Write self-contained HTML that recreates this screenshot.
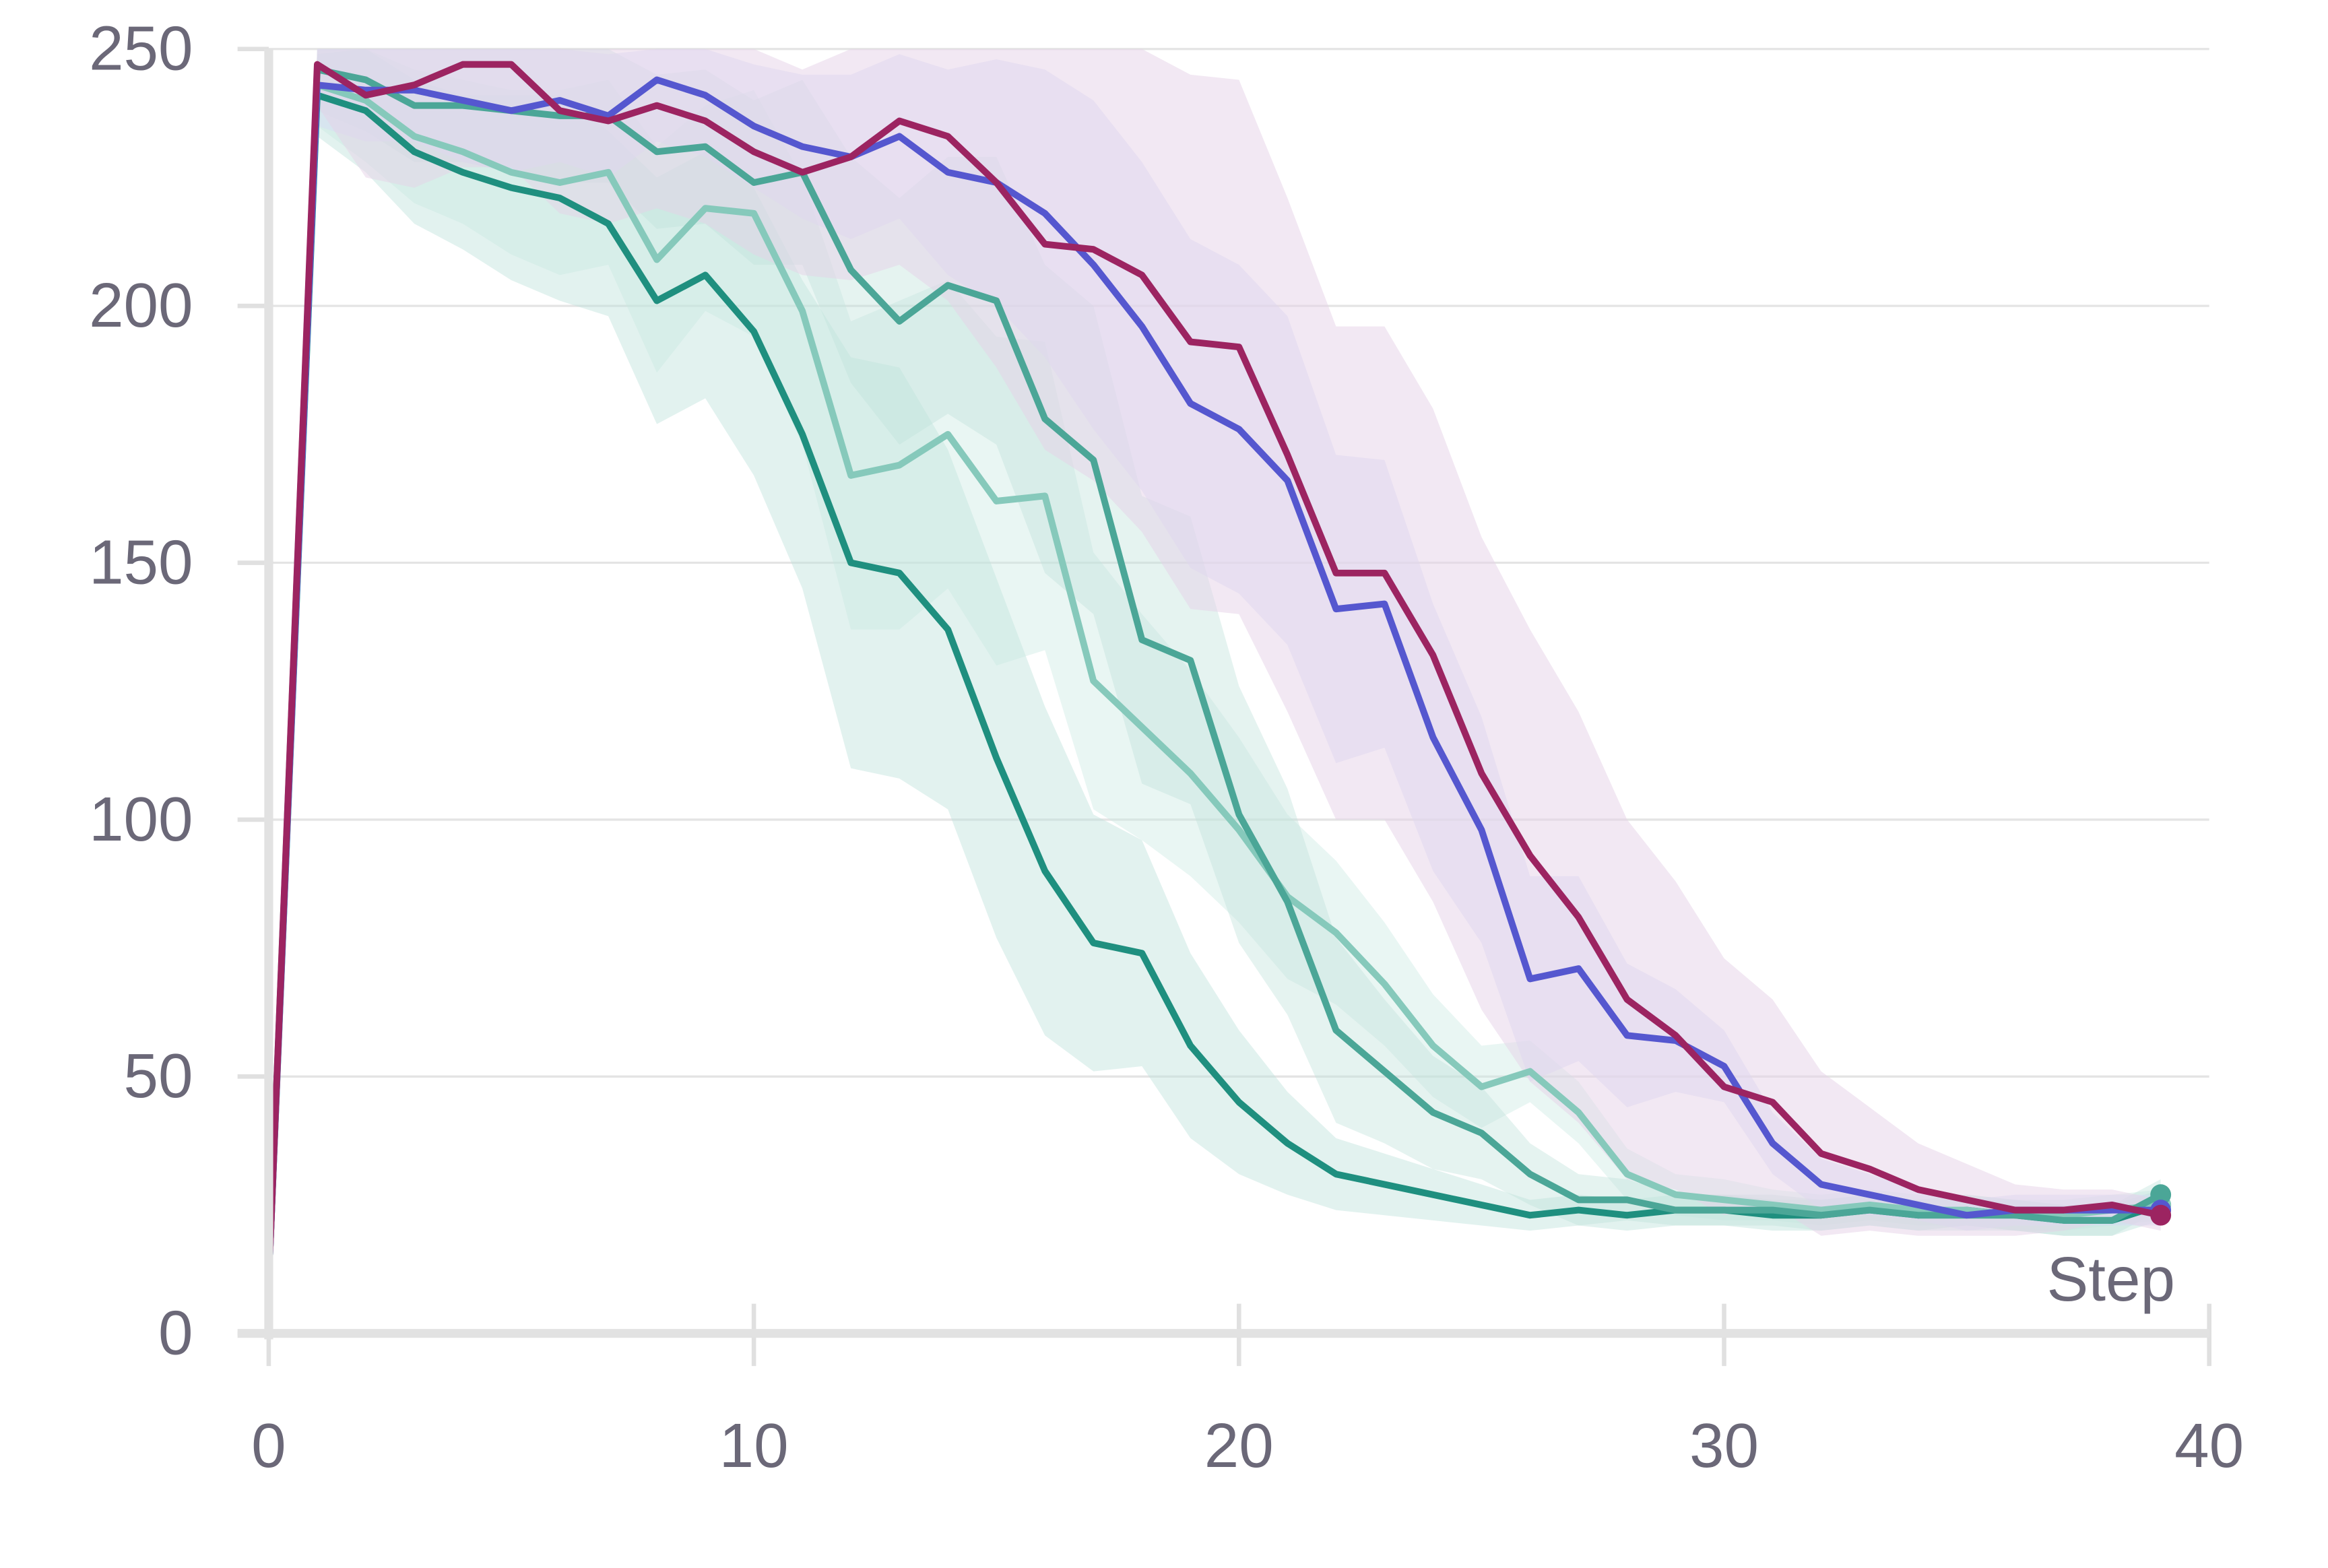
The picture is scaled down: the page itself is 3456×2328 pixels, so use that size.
<!DOCTYPE html>
<html><head><meta charset="utf-8">
<style>
html,body{margin:0;padding:0;background:#fff;}
svg{display:block;}
text{font-family:"Liberation Sans","DejaVu Sans",sans-serif;fill:#6b6878;}
</style></head>
<body>
<svg id="chart" width="3456" height="2328" viewBox="0 0 1568 1056" preserveAspectRatio="none" xmlns="http://www.w3.org/2000/svg">
<g id="grid"></g>
<g id="bands"></g>
<g id="lines"></g>
<g id="axes"></g>
<text x="1465" y="876" font-size="42" text-anchor="end">Step</text>
</svg>
<script>
const steps = [0,1,2,3,4,5,6,7,8,9,10,11,12,13,14,15,16,17,18,19,20,21,22,23,24,25,26,27,28,29,30,31,32,33,34,35,36,37,38,39];
const xTicks = [0,10,20,30,40];
const yTicks = [0,50,100,150,200,250];
const seriesA = [10,241,238,230,226,223,221,216,201,206,195,175,150,148,137,112,90,76,74,56,45,37,31,29,27,25,23,24,23,24,24,23,23,24,23,24,23,22,22,25];
const seriesB = [10,243,240,233,230,226,224,226,209,219,218,199,167,169,175,162,163,127,118,109,98,85,78,68,56,48,51,43,31,27,26,25,24,25,24,24,23,23,24,25];
const seriesC = [10,246,244,239,239,238,237,237,230,231,224,226,207,197,204,201,178,170,135,131,101,84,59,51,43,39,31,26,26,24,24,24,23,24,23,23,23,22,22,27];
const seriesD = [10,243,242,242,240,238,240,237,244,241,235,231,229,233,226,224,218,208,196,181,176,166,141,142,116,98,69,71,58,57,52,37,29,27,25,23,24,24,24,24];
const seriesE = [10,247,241,243,247,247,238,236,239,236,230,226,229,236,233,224,212,211,206,193,192,171,148,148,132,109,93,81,65,58,48,45,35,32,28,26,24,24,25,23];
const spreadA = [0,8,12,14,15,18,20,18,24,24,28,30,40,40,35,35,32,25,22,18,14,10,7,6,5,4,3,3,3,3,3,3,3,3,3,3,3,3,3,3];
const spreadB = [0,8,12,13,14,16,18,18,22,20,24,26,30,32,30,32,30,25,22,20,18,16,14,12,10,8,6,6,5,4,4,3,3,3,3,3,3,3,3,3];
const spreadC = [0,8,10,11,11,12,13,13,15,15,16,18,22,24,25,28,30,30,28,28,25,22,18,14,11,9,6,5,4,3,3,3,3,3,3,3,3,3,3,3];
const spreadD = [0,8,10,10,12,12,12,12,12,12,12,14,16,16,20,24,28,32,32,32,32,32,30,28,26,22,20,18,14,10,7,6,5,4,3,3,3,3,3,3];
const spreadE = [0,8,16,20,20,20,20,20,20,20,20,20,24,28,32,36,40,45,50,52,52,50,48,48,48,46,44,40,35,30,25,20,16,12,9,7,5,4,3,3];

const X0=181,X1=1488,Y0=898,Y1=33;
const xs = v => X0 + (v/40)*(X1-X0);
const ys = v => Y0 - (v/250)*(Y0-Y1);
const NS='http://www.w3.org/2000/svg';
function mk(tag, attrs, parent){const e=document.createElementNS(NS,tag);for(const k in attrs)e.setAttribute(k,attrs[k]);parent.appendChild(e);return e;}
const grid=document.getElementById('grid'),bands=document.getElementById('bands'),lines=document.getElementById('lines'),axes=document.getElementById('axes');

yTicks.forEach(t=>{
  if(t>0){const g=mk('line',{x1:X0,x2:X1,y1:ys(t),y2:ys(t),stroke:'#e4e4e4','stroke-width':1.5},grid);
  
  }
  const tk=mk('line',{x1:160,x2:X0,y1:ys(t),y2:ys(t),stroke:'#e0e0e0','stroke-width':3},axes);
  
  
  const lb=mk('text',{x:130,y:ys(t)+14,'font-size':42,'text-anchor':'end'},axes);lb.textContent=t;
  
  
});
xTicks.forEach(t=>{
  const tk=mk('line',{x1:xs(t),x2:xs(t),y1:878,y2:920,stroke:'#e0e0e0','stroke-width':3},axes);
  
  
  const lb=mk('text',{x:xs(t),y:988,'font-size':42,'text-anchor':'middle'},axes);lb.textContent=t;
  
  
});
const ya=mk('line',{x1:X0,x2:X0,y1:Y1,y2:Y0+4,stroke:'#e2e2e2','stroke-width':6},axes);


const xa=mk('line',{x1:160,x2:X1,y1:Y0,y2:Y0,stroke:'#e2e2e2','stroke-width':6},axes);



const series=[
 {v:seriesA,s:spreadA,c:'#1f8f7f',b:'#bfe3dc',bo:0.45,name:'run-a'},
 {v:seriesB,s:spreadB,c:'#86c9bb',b:'#c9e8e2',bo:0.4,name:'run-b'},
 {v:seriesC,s:spreadC,c:'#4ba697',b:'#bfe0da',bo:0.4,name:'run-c'},
 {v:seriesD,s:spreadD,c:'#5557cf',b:'#d8dbf5',bo:0.5,name:'run-d'},
 {v:seriesE,s:spreadE,c:'#9c2461',b:'#e6d2e8',bo:0.5,name:'run-e'}
];
const clip=v=>Math.max(0,Math.min(250,v));
series.forEach(se=>{
  let up=steps.map((x,i)=>xs(x)+','+ys(clip(se.v[i]+se.s[i])));
  let lo=steps.map((x,i)=>xs(x)+','+ys(clip(se.v[i]-se.s[i]))).reverse();
  const p=mk('polygon',{points:up.concat(lo).join(' '),fill:se.b,'fill-opacity':se.bo},bands);
  
  
});
series.forEach(se=>{
  const pts=steps.map((x,i)=>xs(x)+','+ys(se.v[i])).join(' ');
  const l=mk('polyline',{points:pts,fill:'none',stroke:se.c,'stroke-width':4.5,'stroke-linejoin':'round'},lines);
  
  
  const n=steps.length-1;
  const d=mk('circle',{cx:xs(steps[n]),cy:ys(se.v[n]),r:7,fill:se.c},lines);
  
  
});
</script>
</body></html>
